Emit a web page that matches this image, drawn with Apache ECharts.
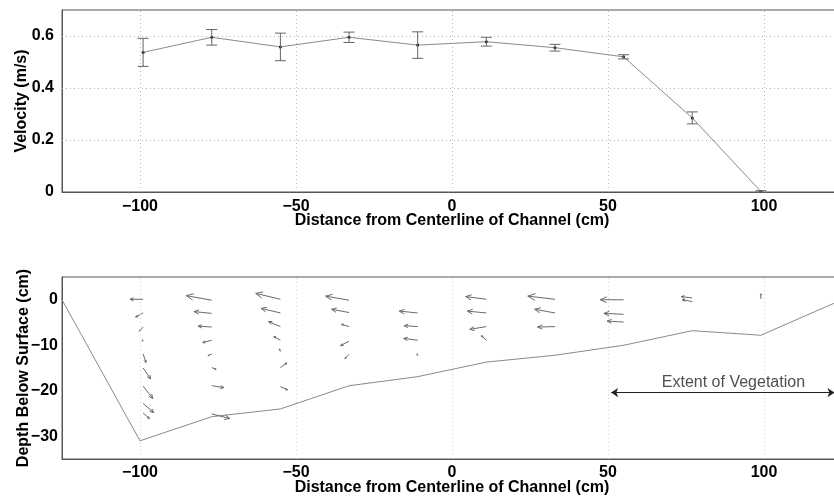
<!DOCTYPE html>
<html><head><meta charset="utf-8">
<script src="https://cdn.jsdelivr.net/npm/echarts@6/dist/echarts.min.js"></script>
<style>html,body{margin:0;padding:0;background:#fff}#c{width:834px;height:497px}</style>
</head><body><div id="c"></div>
<script>
// ---- data ----
const positions = [-99, -77, -55, -33, -11, 11, 33, 55, 77, 99];
const velocity = [0.537, 0.595, 0.558, 0.595, 0.565, 0.578, 0.555, 0.520, 0.285, 0.002];
const velocityErr = [0.054, 0.030, 0.053, 0.020, 0.051, 0.017, 0.013, 0.008, 0.023, 0.003];
const xTicks = [-100, -50, 0, 50, 100];
const vTicks = [0, 0.2, 0.4, 0.6];
const depthTicks = [-30, -20, -10, 0];
const bedX = [-125, -100, -77, -55, -33, -11, 11, 33, 55, 77, 99, 125];
const bedDepth = [0, -31, -25.7, -24, -18.9, -16.9, -13.7, -12.2, -10, -6.8, -7.8, 0];
// quiver vectors: tail position (cm, cm) and drawn components (cm, cm)
const quiverX = [
  -99, -99, -99, -99, -99, -99, -99, -99, -99,
  -77, -77, -77, -77, -77, -77, -77, -77,
  -55, -55, -55, -55, -55, -55, -55,
  -33, -33, -33, -33, -33,
  -11, -11, -11, -11,
  11, 11, 11, 11,
  33, 33, 33,
  55, 55, 55,
  77, 77,
  99];
const quiverDepth = [
  0.1, -2.9, -6.0, -8.9, -11.9, -15.0, -19.0, -22.8, -24.9,
  -0.1, -3.0, -6.0, -8.9, -11.9, -14.9, -18.9, -25.1,
  0.1, -2.9, -5.9, -8.9, -11.4, -14.9, -19.1,
  -0.1, -2.8, -5.9, -9.1, -12.0,
  -2.9, -5.9, -8.9, -12.2,
  0.1, -2.9, -5.9, -8.9,
  0.1, -2.9, -5.9,
  0.0, -3.2, -4.9,
  0.4, -0.4,
  0.2];
const quiverU = [
  -4.2, -2.4, -1.2, -0.4, 0.9, 2.4, 3.1, 3.4, 2.0,
  -8.2, -5.7, -4.4, -2.9, -1.2, 1.4, 3.9, 5.8,
  -7.9, -6.2, -3.8, -2.1, -0.3, 2.1, 2.3,
  -7.5, -5.6, -2.4, -2.7, -1.3,
  -5.9, -4.3, -4.5, -0.2,
  -6.6, -6.1, -5.3, -1.6,
  -8.7, -6.5, -5.6,
  -7.5, -6.3, -5.3,
  -3.5, -3.2,
  0.0];
const quiverV = [
  0.0, -0.9, -0.9, -0.1, -1.9, -2.4, -2.7, -2.0, -1.2,
  1.0, 0.4, 0.2, -0.5, -0.4, -0.4, -0.4, -1.0,
  1.3, 1.0, 1.1, 0.8, 0.6, 1.0, -0.7,
  0.9, 0.7, 0.5, -1.0, -0.9,
  0.4, 0.2, 0.4, 0.3,
  0.6, 0.4, -0.6, 1.0,
  0.7, 0.8, -0.1,
  0.0, 0.2, 0.2,
  0.3, 0.4,
  1.1];
const vegExtent = [51, 122.6];
const vegDepth = -20.4;
const vegLabelPos = [90.2, -18.2];
const vegLabel = 'Extent of Vegetation';

// ---- helpers ----
const FONT = 'Liberation Sans, Arial, Helvetica, sans-serif';
const boldText = {fontFamily: FONT, fontWeight: 'bold', fontSize: 16, color: '#000'};
const fmtNum = v => v < 0 ? '\u2212' + Math.abs(v) : String(v);
const near = (arr, v) => arr.find(t => Math.abs(t - v) < 1e-6);
const fmtX = v => { const t = near(xTicks, v); return t === undefined ? '' : fmtNum(t); };
const fmtV = v => { const t = near(vTicks, v); return t === undefined ? '' : String(t); };
const fmtD = v => { const t = near(depthTicks, v); return t === undefined ? '' : fmtNum(t); };
const gridLineStyle = {type: [1, 3], color: '#b5b5b5', width: 1};

function renderErr(params, api) {
  const x = api.value(0), y = api.value(1), e = api.value(2);
  const top = api.coord([x, y + e]), bot = api.coord([x, y - e]);
  const hw = 5.5, st = {stroke: '#666', lineWidth: 1};
  return {type: 'group', children: [
    {type: 'line', shape: {x1: top[0], y1: top[1], x2: bot[0], y2: bot[1]}, style: st},
    {type: 'line', shape: {x1: top[0] - hw, y1: top[1], x2: top[0] + hw, y2: top[1]}, style: st},
    {type: 'line', shape: {x1: bot[0] - hw, y1: bot[1], x2: bot[0] + hw, y2: bot[1]}, style: st}
  ]};
}
function renderArrow(params, api) {
  const x = api.value(0), y = api.value(1), u = api.value(2), v = api.value(3);
  const p0 = api.coord([x, y]), p1 = api.coord([x + u, y + v]);
  const dx = p1[0] - p0[0], dy = p1[1] - p0[1];
  const len = Math.hypot(dx, dy);
  const st = {stroke: '#6a6a6a', lineWidth: 1, fill: null};
  const children = [{type: 'line', shape: {x1: p0[0], y1: p0[1], x2: p1[0], y2: p1[1]}, style: st}];
  if (len > 0.5) {
    const a = Math.atan2(dy, dx), h = Math.max(1.5, len * 0.3), w = 0.42;
    children.push({type: 'polyline', shape: {points: [
      [p1[0] - h * Math.cos(a - w), p1[1] - h * Math.sin(a - w)], [p1[0], p1[1]],
      [p1[0] - h * Math.cos(a + w), p1[1] - h * Math.sin(a + w)]]}, style: st});
  }
  return {type: 'group', children};
}

const chart = echarts.init(document.getElementById('c'), null, {renderer: 'canvas'});
const xAxisBase = {
  type: 'value', min: -125, max: 125, interval: 25,
  axisLine: {onZero: false, lineStyle: {color: '#555'}}, axisTick: {show: false}, splitLine: {show: false},
  name: 'Distance from Centerline of Channel (cm)', nameLocation: 'middle', nameGap: 21,
  nameMoveOverlap: false, nameTextStyle: boldText
};
chart.setOption({
  animation: false,
  backgroundColor: '#fff',
  grid: [
    {left: 62, top: 10, width: 780, height: 182, show: true, borderColor: '#555', borderWidth: 1,
     outerBoundsMode: 'none', containLabel: false},
    {left: 62, top: 277, width: 780, height: 182, show: true, borderColor: '#555', borderWidth: 1,
     outerBoundsMode: 'none', containLabel: false}
  ],
  xAxis: [
    Object.assign({}, xAxisBase, {gridIndex: 0, axisLabel: Object.assign({margin: 7, formatter: fmtX}, boldText)}),
    Object.assign({}, xAxisBase, {gridIndex: 1, axisLabel: Object.assign({margin: 6, formatter: fmtX}, boldText)})
  ],
  yAxis: [
    {gridIndex: 0, type: 'value', min: 0, max: 0.7, interval: 0.1,
     axisLine: {show: true, onZero: false, lineStyle: {color: '#555'}}, axisTick: {show: false}, splitLine: {show: false},
     axisLabel: Object.assign({margin: 8, formatter: fmtV}, boldText),
     name: 'Velocity (m/s)', nameLocation: 'middle', nameGap: 32, nameMoveOverlap: false, nameTextStyle: boldText},
    {gridIndex: 1, type: 'value', min: -35, max: 5, interval: 5,
     axisLine: {show: true, onZero: false, lineStyle: {color: '#555'}}, axisTick: {show: false}, splitLine: {show: false},
     axisLabel: Object.assign({margin: 4, formatter: fmtD}, boldText),
     name: 'Depth Below Surface (cm)', nameLocation: 'middle', nameGap: 30, nameMoveOverlap: false, nameTextStyle: boldText}
  ],
  series: [
    {type: 'line', xAxisIndex: 0, yAxisIndex: 0, z: 3,
     data: positions.map((x, i) => [x, velocity[i]]),
     symbol: 'circle', symbolSize: 3, showSymbol: true,
     itemStyle: {color: '#222'}, lineStyle: {color: '#8a8a8a', width: 1},
     markLine: {silent: true, symbol: 'none', label: {show: false}, lineStyle: gridLineStyle,
       data: xTicks.map(t => ({xAxis: t})).concat(vTicks.filter(t => t > 0).map(t => ({yAxis: t})))}},
    {type: 'custom', xAxisIndex: 0, yAxisIndex: 0, z: 4, renderItem: renderErr,
     data: positions.map((x, i) => [x, velocity[i], velocityErr[i]])},
    {type: 'line', xAxisIndex: 1, yAxisIndex: 1, z: 3,
     data: bedX.map((x, i) => [x, bedDepth[i]]), showSymbol: false, symbol: 'none',
     lineStyle: {color: '#8a8a8a', width: 1},
     markLine: {silent: true, symbol: 'none', label: {show: false}, lineStyle: {type: [1, 3], color: '#d0d0d0', width: 1},
       data: xTicks.map(t => ({xAxis: t}))}},
    {type: 'custom', xAxisIndex: 1, yAxisIndex: 1, z: 4, renderItem: renderArrow,
     data: quiverX.map((x, i) => [x, quiverDepth[i], quiverU[i], quiverV[i]])},
    {type: 'scatter', xAxisIndex: 1, yAxisIndex: 1, z: 5, symbolSize: 1,
     itemStyle: {color: 'rgba(0,0,0,0)'},
     data: [vegLabelPos],
     label: {show: true, position: 'inside', formatter: vegLabel, fontFamily: FONT, fontSize: 16, color: '#222'},
     markLine: {silent: true, symbol: ['arrow', 'arrow'], symbolSize: 7, label: {show: false},
       lineStyle: {color: '#222', width: 1, type: 'solid'},
       data: [[{coord: [vegExtent[0], vegDepth]}, {coord: [vegExtent[1], vegDepth]}]]}}
  ]
});
</script></body></html>
